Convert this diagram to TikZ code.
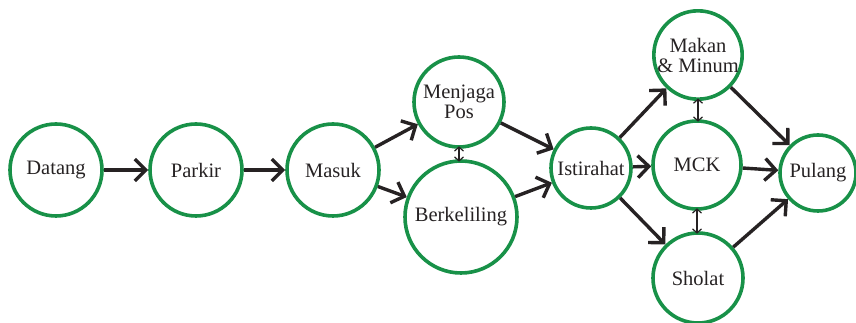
\documentclass[tikz,border=0pt]{standalone}
\usepackage{fontspec}
\setmainfont{Liberation Serif}
\usetikzlibrary{arrows.meta}
\definecolor{ringgreen}{RGB}{24,145,72}
\definecolor{inkdark}{RGB}{38,34,35}
\begin{document}
\begin{tikzpicture}[x=1pt,y=1pt,
  state/.style={circle, draw=ringgreen, line width=3.6pt, inner sep=0pt,
    minimum size=#1, align=center, font=\fontsize{20.5}{21}\selectfont, text=inkdark},
  state/.default=92pt,
  flow/.style={draw=inkdark, line width=3.4pt,
    -{Straight Barb[length=11pt,width=22pt,line width=3.4pt]}},
  link/.style={draw=inkdark, line width=1.2pt, shorten <=-2.5pt, shorten >=-2.5pt,
    {Straight Barb[length=4pt,width=9pt,line width=1.2pt]}-{Straight Barb[length=4pt,width=9pt,line width=1.2pt]}}
]
\useasboundingbox (0,0) rectangle (856,323);
\node[state] (datang) at (56,153) {Datang};
\node[state] (parkir) at (196,153) {Parkir};
\node[state] (masuk) at (333,153) {Masuk};
\node[state=90pt] (jaga) at (459,221) {Menjaga\\[-1pt]Pos};
\node[state=112pt] (keliling) at (461,106) {Berkeliling};
\node[state=80pt] (istirahat) at (591,155) {Istirahat};
\node[state=88pt] (makan) at (698,268) {Makan\\[-1pt]\& Minum};
\node[state=88pt] (mck) at (697,158) {MCK};
\node[state=90pt] (sholat) at (698,45) {Sholat};
\node[state=76pt] (pulang) at (818,150) {Pulang};

\draw[flow] (datang) -- (parkir);
\draw[flow] (parkir) -- (masuk);
\draw[flow] (masuk) -- (jaga);
\draw[flow] (masuk) -- (keliling);
\draw[flow] (jaga) -- (istirahat);
\draw[flow] (keliling) -- (istirahat);
\draw[flow] (istirahat) -- (makan);
\draw[flow] (istirahat) -- (mck);
\draw[flow] (istirahat) -- (sholat);
\draw[flow] (makan) -- (pulang);
\draw[flow] (mck) -- (pulang);
\draw[flow] (sholat) -- (pulang);

\draw[link] (jaga.south) -- (jaga.south |- keliling.north);
\draw[link] (makan.south) -- (makan.south |- mck.north);
\draw[link] (mck.south) -- (mck.south |- sholat.north);
\end{tikzpicture}
\end{document}
